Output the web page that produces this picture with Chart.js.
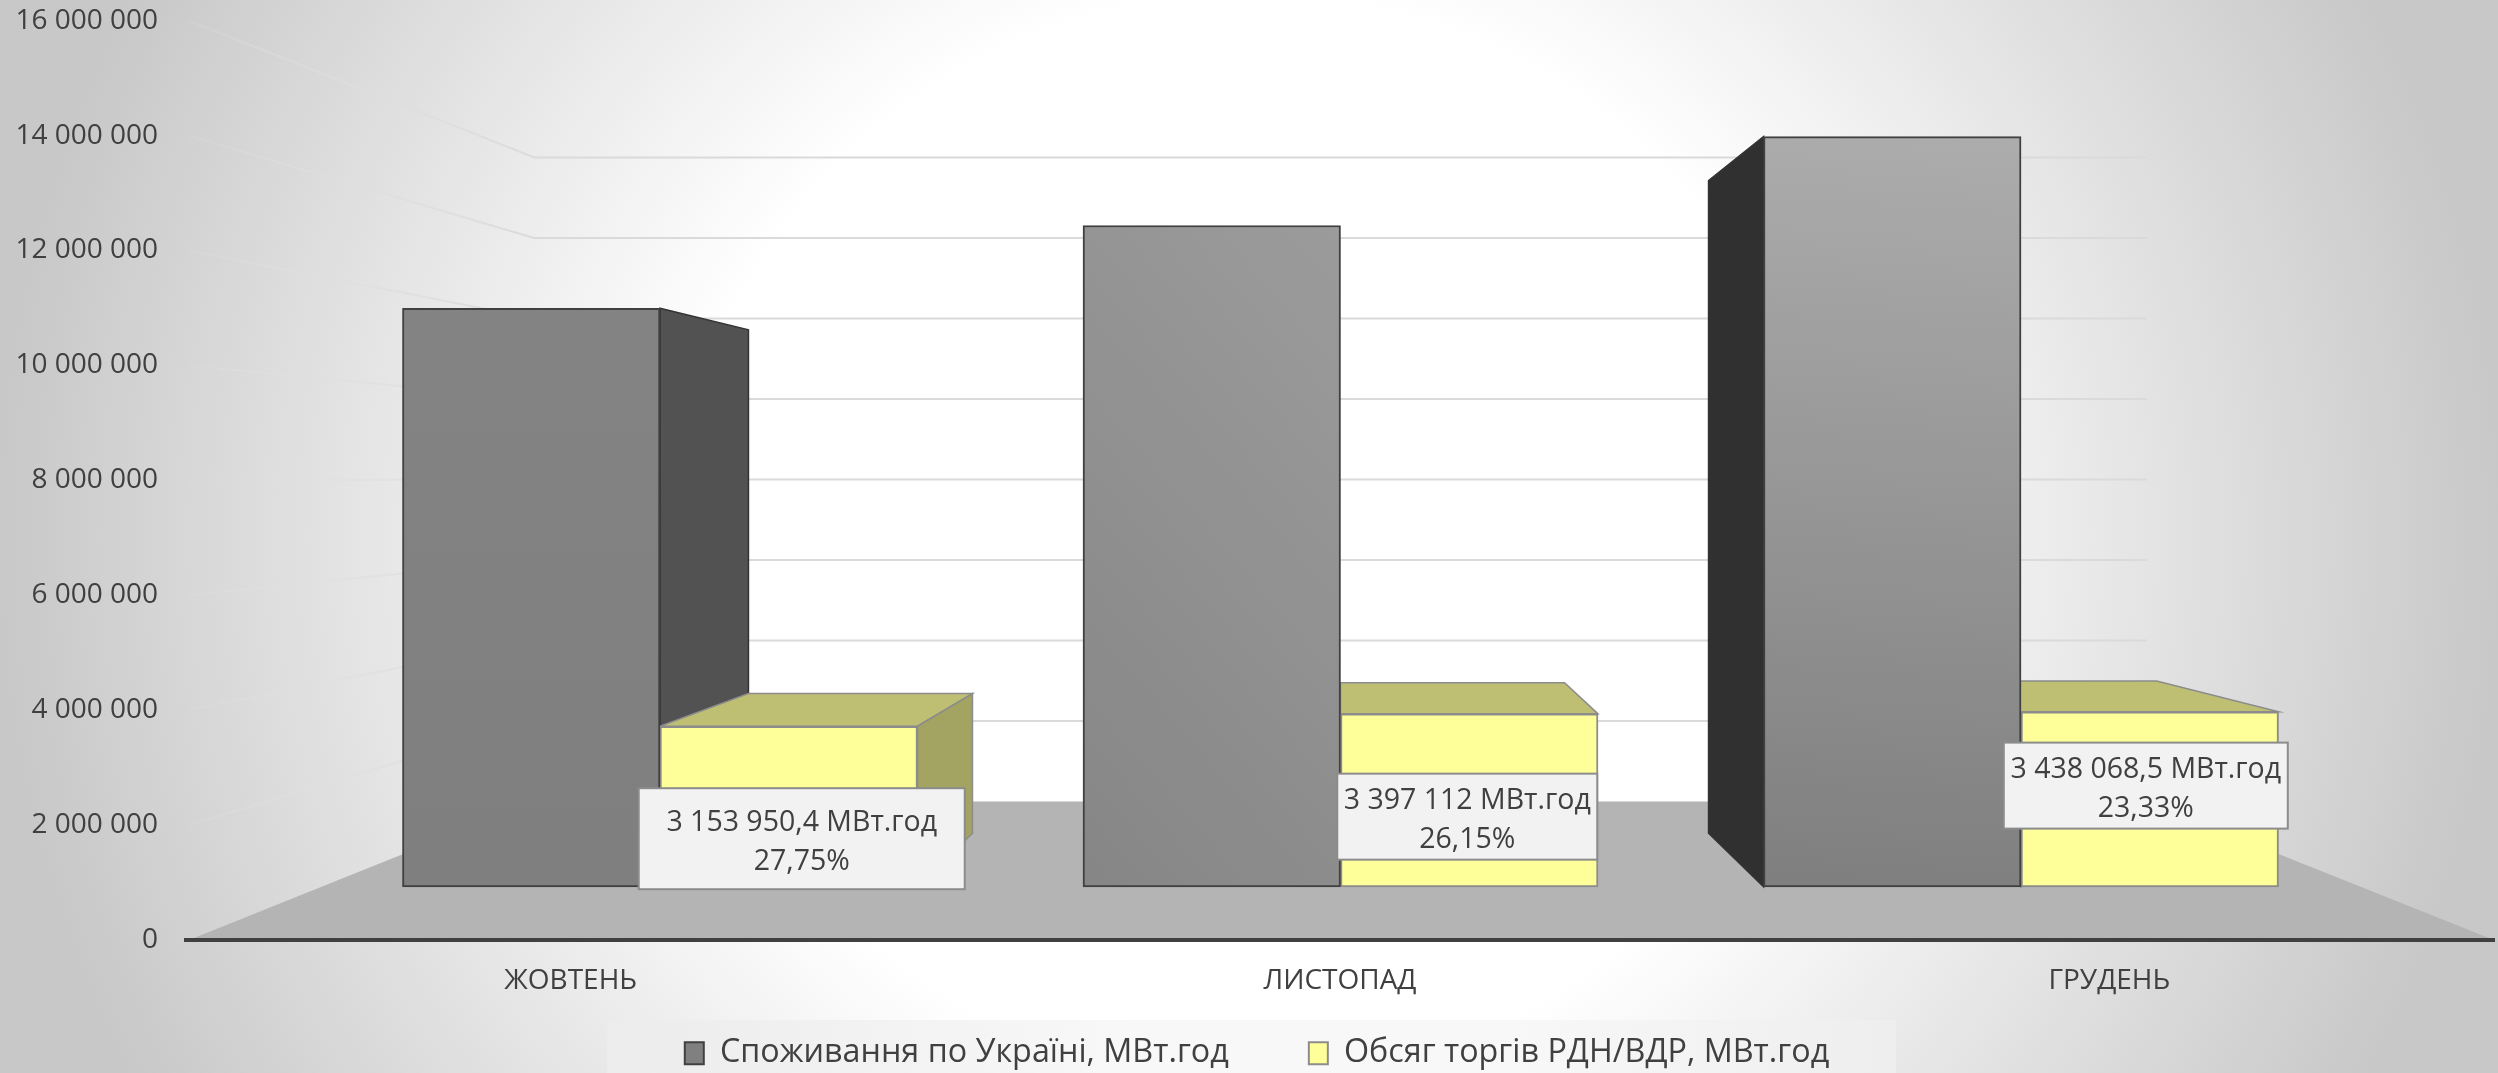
<!DOCTYPE html>
<html>
<head>
<meta charset="utf-8">
<title>Споживання та обсяг торгів</title>
<script src="https://cdn.jsdelivr.net/npm/chart.js@4"></script>
<style>
  html, body { margin: 0; padding: 0; }
  #wrap {
    width: 2498px;
    height: 1073px;
    background: radial-gradient(1250px 1200px at 50% 50%, #ffffff 45%, #c8c8c8 100%);
  }
  canvas { display: block; }
</style>
</head>
<body>
<div id="wrap"><canvas id="chart" width="2498" height="1073"></canvas></div>
<script>
const months = ['ЖОВТЕНЬ', 'ЛИСТОПАД', 'ГРУДЕНЬ'];
const consumption = [11366000, 12991000, 14737000];
const trading = [3153950.4, 3397112, 3438068.5];
const tradingText = ['3 153 950,4 МВт.год', '3 397 112 МВт.год', '3 438 068,5 МВт.год'];
const shareText = ['27,75%', '26,15%', '23,33%'];
const seriesNames = ['Споживання по Україні, МВт.год', 'Обсяг торгів РДН/ВДР, МВт.год'];
const yTicks = [0, 2000000, 4000000, 6000000, 8000000, 10000000, 12000000, 14000000, 16000000];

// bar shading, light end of the gradient per month
const grayTop = ['#838383', '#a2a2a2', '#acacac'];
const graySlant = [0, 3, 0.2];
const graySide = ['#525252', '#3a3a3a', '#303030'];

// where the 3d look comes from: everything recedes towards this point
const vanishY = 475;
const depth = 0.13;
const wallRight = 2147;
const wallLeft = 534;
const textColor = '#404040';
const fontName = '"Open Sans", sans-serif';

// label boxes were dragged by hand in the original: centre relative to the yellow bar
const boxShiftX = [13, -2, -4];
const boxCenterValue = [945000, 1378000, 1988000];
const boxSize = [[326, 101], [260, 86], [284, 86]];

function groupDigits(v) {
    return String(v).replace(/\B(?=(\d{3})+$)/g, ' ');
}

function backPoint(chart, x, y) {
    const vx = chart.scales.xBars.getPixelForValue(1);
    return { x: x + (vx - x) * depth, y: y + (vanishY - y) * depth };
}

function poly(ctx, pts, fill, stroke, width) {
    ctx.beginPath();
    pts.forEach((p, i) => { if (i === 0) ctx.moveTo(p.x, p.y); else ctx.lineTo(p.x, p.y); });
    ctx.closePath();
    ctx.fillStyle = fill;
    ctx.fill();
    ctx.strokeStyle = stroke;
    ctx.lineWidth = width;
    ctx.stroke();
}

// side and top faces of one bar, only those the viewer can see
function drawFaces(chart, bar, topFill, sideFill, stroke, width) {
    const ctx = chart.ctx;
    const vx = chart.scales.xBars.getPixelForValue(1);
    const l = bar.x - bar.width / 2, r = bar.x + bar.width / 2, t = bar.y, b = bar.base;
    if (t > vanishY) {
        poly(ctx, [{ x: l, y: t }, { x: r, y: t }, backPoint(chart, r, t), backPoint(chart, l, t)], topFill, stroke, width);
    }
    if (r < vx - 1) {
        poly(ctx, [{ x: r, y: t }, backPoint(chart, r, t), backPoint(chart, r, b), { x: r, y: b }], sideFill, stroke, width);
    }
    if (l > vx + 1) {
        poly(ctx, [{ x: l, y: t }, backPoint(chart, l, t), backPoint(chart, l, b), { x: l, y: b }], sideFill, stroke, width);
    }
}

const roomPlugin = {
    id: 'room',
    // legend item spacing also pads it vertically, so pull it back up into its strip
    afterLayout(chart) {
        chart.legend.top = 957;
        chart.legend.left += 3;
        chart.legend.right += 3;
    },
    beforeDraw(chart) {
        const ctx = chart.ctx;
        const area = chart.chartArea;
        const y = chart.scales.y, yWall = chart.scales.yWall;

        // strip behind the legend
        const strip = ctx.createLinearGradient(607, 0, 1896, 0);
        strip.addColorStop(0, '#ececec');
        strip.addColorStop(0.4, '#f8f8f8');
        strip.addColorStop(0.7, '#f8f8f8');
        strip.addColorStop(1, '#eeeeee');
        ctx.fillStyle = strip;
        ctx.fillRect(607, 1020, 1289, 53);

        // floor
        ctx.beginPath();
        ctx.moveTo(area.left + 3, y.getPixelForValue(0));
        ctx.lineTo(wallLeft, yWall.getPixelForValue(0));
        ctx.lineTo(wallRight, yWall.getPixelForValue(0));
        ctx.lineTo(area.right, y.getPixelForValue(0));
        ctx.closePath();
        ctx.fillStyle = '#b4b4b4';
        ctx.fill();

        // gridlines: back wall, then fading out along the left wall
        ctx.lineWidth = 2;
        yTicks.forEach(v => {
            if (v === 0) return;
            const py = yWall.getPixelForValue(v);
            ctx.strokeStyle = '#dadada';
            ctx.beginPath();
            ctx.moveTo(wallLeft, py);
            ctx.lineTo(wallRight, py);
            ctx.stroke();

            const fade = ctx.createLinearGradient(area.left + 3, 0, wallLeft, 0);
            fade.addColorStop(0, 'rgba(228,228,228,0.15)');
            fade.addColorStop(1, 'rgba(218,218,218,1)');
            ctx.strokeStyle = fade;
            ctx.beginPath();
            ctx.moveTo(area.left + 3, y.getPixelForValue(v));
            ctx.lineTo(wallLeft, py);
            ctx.stroke();
        });
    },
    beforeDatasetsDraw(chart) {
        const grays = chart.getDatasetMeta(0).data;
        const yellows = chart.getDatasetMeta(1).data;
        grays.forEach((bar, i) => drawFaces(chart, bar, '#6a6a6a', graySide[i], '#333333', 1.5));
        yellows.forEach(bar => drawFaces(chart, bar, '#bfbf74', '#a3a362', '#8c8c8c', 1.5));
    },
    afterDatasetsDraw(chart) {
        const ctx = chart.ctx;
        const yBars = chart.scales.yBars;
        chart.getDatasetMeta(1).data.forEach((bar, i) => {
            const cx = bar.x + boxShiftX[i];
            const cy = yBars.getPixelForValue(boxCenterValue[i]);
            const w = boxSize[i][0], h = boxSize[i][1];
            ctx.fillStyle = '#f2f2f2';
            ctx.fillRect(cx - w / 2, cy - h / 2, w, h);
            ctx.strokeStyle = '#8c8c8c';
            ctx.lineWidth = 2;
            ctx.strokeRect(cx - w / 2, cy - h / 2, w, h);
            ctx.fillStyle = textColor;
            ctx.font = '28.5px ' + fontName;
            ctx.textAlign = 'center';
            ctx.textBaseline = 'middle';
            ctx.fillText(tradingText[i], cx, cy - 16);
            ctx.fillText(shareText[i], cx, cy + 23);
        });
    }
};

function grayFill(context) {
    const chart = context.chart;
    const i = context.dataIndex;
    if (i === undefined || !chart.chartArea) return '#808080';
    const top = chart.scales.yBars.getPixelForValue(consumption[i]);
    const base = chart.scales.yBars.getPixelForValue(0);
    const cx = chart.scales.xBars.getPixelForValue(i) - 128;
    const g = chart.ctx.createLinearGradient(cx + 128 * graySlant[i], top, cx - 128 * graySlant[i], base);
    g.addColorStop(0, grayTop[i]);
    g.addColorStop(1, '#7f7f7f');
    return g;
}

new Chart(document.getElementById('chart'), {
    type: 'bar',
    data: {
        labels: months,
        datasets: [
            {
                label: seriesNames[0],
                data: months.map((m, i) => ({ x: i, y: consumption[i] })),
                xAxisID: 'xBars',
                yAxisID: 'yBars',
                backgroundColor: grayFill,
                borderColor: '#404040',
                borderWidth: 2,
                borderSkipped: false,
                barThickness: 257.5
            },
            {
                label: seriesNames[1],
                data: months.map((m, i) => ({ x: i, y: trading[i] })),
                xAxisID: 'xBars',
                yAxisID: 'yBars',
                backgroundColor: '#ffff99',
                borderColor: '#8c8c8c',
                borderWidth: 2,
                borderSkipped: false,
                barThickness: 257.5
            }
        ]
    },
    options: {
        responsive: false,
        animation: false,
        layout: { padding: { top: 20.7, right: 4, left: 14, bottom: -71.2 } },
        scales: {
            x: {
                type: 'category',
                labels: months,
                offset: true,
                grid: { display: false, drawTicks: false },
                border: { color: '#404040', width: 4, z: 1 },
                ticks: { color: textColor, font: { family: fontName, size: 28 }, padding: 24, maxRotation: 0 },
                afterFit(scale) { scale.height = 82; }
            },
            y: {
                min: 0,
                max: 16000000,
                grid: { display: false, drawTicks: false },
                border: { display: false },
                afterBuildTicks(scale) { scale.ticks = yTicks.map(v => ({ value: v })); },
                ticks: {
                    color: textColor,
                    font: { family: fontName, size: 28 },
                    padding: 28,
                    callback: v => groupDigits(v)
                },
                afterFit(scale) {
                    scale.width = 172;
                    scale.paddingTop = 0;
                    scale.paddingBottom = 0;
                }
            },
            // the bars stand on a plane further back than the axis, so they get their own scales
            xBars: { type: 'linear', axis: 'x', display: false, offset: false, min: -0.6965, max: 2.695 },
            yBars: { type: 'linear', axis: 'y', display: false, min: -1043000, max: 17014000 },
            yWall: { type: 'linear', axis: 'y', display: false, min: -3435000, max: 19395000 }
        },
        plugins: {
            tooltip: { enabled: false },
            legend: {
                position: 'bottom',
                labels: {
                    color: textColor,
                    font: { family: fontName, size: 32.3 },
                    boxWidth: 19,
                    boxHeight: 22,
                    padding: 80,
                    generateLabels() {
                        return [
                            { text: seriesNames[0], fillStyle: '#808080', strokeStyle: '#404040', fontColor: textColor, lineWidth: 2, datasetIndex: 0 },
                            { text: seriesNames[1], fillStyle: '#ffff99', strokeStyle: '#8c8c8c', fontColor: textColor, lineWidth: 2, datasetIndex: 1 }
                        ];
                    }
                }
            }
        }
    },
    plugins: [roomPlugin]
});
</script>
</body>
</html>
